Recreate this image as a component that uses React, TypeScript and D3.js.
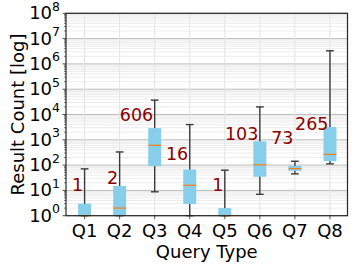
import { useEffect, useRef } from 'react'
import * as d3 from 'd3'

// 쿼리 유형별 결과 개수 분포 (log scale)
const categories = ['Q1', 'Q2', 'Q3', 'Q4', 'Q5', 'Q6', 'Q7', 'Q8']
const whiskerLow  = [1, 1, 8.8, 1, 1, 7, 45, 112]
const boxLow      = [1, 1, 91, 2.9, 1, 34.5, 59, 142]
const medians     = [1, 2, 606, 16, 1, 103, 73, 265]
const boxHigh     = [3, 15, 2900, 67, 2, 870, 93, 3200]
const whiskerHigh = [71, 331, 37000, 4000, 63, 20000, 142, 3.3e6]
const labelText   = ['1', '2', '606', '16', '1', '103', '73', '265']
const labelAt     = [9.4, 17.6, 5500, 155, 9.4, 1000, 710, 2500]
const yTicks      = [0, 1, 2, 3, 4, 5, 6, 7, 8]

const W = 357
const H = 268
const M = { top: 13.3, right: 9.5, bottom: 52.3, left: 66 }
const FONT = 'DejaVu Sans, sans-serif'

export default function App() {
  const svgRef = useRef<SVGSVGElement>(null)

  useEffect(() => {
    const svg = d3.select(svgRef.current)
    svg.selectAll('*').remove()

    const x = d3.scaleLinear().domain([0.47, 8.5]).range([M.left, W - M.right])
    const y = d3.scaleLog().domain([1, 1e8]).range([H - M.bottom, M.top])
    const step = x(2) - x(1)
    const boxW = step * 0.37
    const capW = step * 0.22

    // ── grid ──
    const minor: number[] = []
    for (let e = 0; e < 8; e++) for (let k = 2; k < 10; k++) minor.push(k * 10 ** e)
    svg.append('g').selectAll('line').data(minor).join('line')
      .attr('x1', M.left).attr('x2', W - M.right)
      .attr('y1', (d) => y(d)).attr('y2', (d) => y(d))
      .attr('stroke', '#ececec').attr('stroke-width', 1)
    svg.append('g').selectAll('line').data(yTicks).join('line')
      .attr('x1', M.left).attr('x2', W - M.right)
      .attr('y1', (d) => y(10 ** d)).attr('y2', (d) => y(10 ** d))
      .attr('stroke', '#bdbdbd').attr('stroke-width', 1)
    svg.append('g').selectAll('line').data(categories).join('line')
      .attr('x1', (_, i) => x(i + 1)).attr('x2', (_, i) => x(i + 1))
      .attr('y1', M.top).attr('y2', H - M.bottom)
      .attr('stroke', '#e3e3e3').attr('stroke-width', 1)

    // ── boxes ──
    const g = svg.append('g')
    categories.forEach((_, i) => {
      const cx = x(i + 1)
      g.append('line')
        .attr('x1', cx).attr('x2', cx)
        .attr('y1', y(whiskerHigh[i])).attr('y2', y(whiskerLow[i]))
        .attr('stroke', '#3a3a3a').attr('stroke-width', 1.4)
      ;[whiskerHigh[i], whiskerLow[i]].forEach((v) => {
        g.append('line')
          .attr('x1', cx - capW / 2).attr('x2', cx + capW / 2)
          .attr('y1', y(v)).attr('y2', y(v))
          .attr('stroke', '#3a3a3a').attr('stroke-width', 1.4)
      })
      g.append('rect')
        .attr('x', cx - boxW / 2).attr('width', boxW)
        .attr('y', y(boxHigh[i])).attr('height', y(boxLow[i]) - y(boxHigh[i]))
        .attr('fill', '#87ceeb')
      g.append('line')
        .attr('x1', cx - boxW / 2).attr('x2', cx + boxW / 2)
        .attr('y1', y(medians[i])).attr('y2', y(medians[i]))
        .attr('stroke', '#ff7f0e').attr('stroke-width', 1.2)
      g.append('text')
        .attr('x', cx - 1.5).attr('y', y(labelAt[i]))
        .attr('text-anchor', 'end').attr('font-family', FONT)
        .attr('font-size', 17.5).attr('fill', '#8b0000')
        .text(labelText[i])
    })

    // ── frame ──
    svg.append('rect')
      .attr('x', M.left).attr('y', M.top)
      .attr('width', W - M.right - M.left).attr('height', H - M.bottom - M.top)
      .attr('fill', 'none').attr('stroke', '#262626').attr('stroke-width', 1.2)

    // ── y axis ──
    svg.append('g').selectAll('line').data(minor).join('line')
      .attr('x1', M.left - 2).attr('x2', M.left)
      .attr('y1', (d) => y(d)).attr('y2', (d) => y(d))
      .attr('stroke', '#262626').attr('stroke-width', 0.6)
    const yt = svg.append('g').selectAll('g').data(yTicks).join('g')
    yt.append('line')
      .attr('x1', M.left - 3.5).attr('x2', M.left)
      .attr('y1', (d) => y(10 ** d)).attr('y2', (d) => y(10 ** d))
      .attr('stroke', '#262626').attr('stroke-width', 0.8)
    const ytxt = yt.append('text')
      .attr('x', M.left - 6).attr('y', (d) => y(10 ** d) + 6)
      .attr('text-anchor', 'end').attr('font-family', FONT).attr('font-size', 18)
      .attr('fill', '#000')
    ytxt.append('tspan').text('10')
    ytxt.append('tspan').attr('dy', -8.5).attr('font-size', 12.5).text((d) => String(d))

    // ── x axis ──
    svg.append('g').selectAll('line').data(categories).join('line')
      .attr('x1', (_, i) => x(i + 1)).attr('x2', (_, i) => x(i + 1))
      .attr('y1', H - M.bottom).attr('y2', H - M.bottom + 3.5)
      .attr('stroke', '#262626').attr('stroke-width', 0.8)
    svg.append('g').selectAll('text').data(categories).join('text')
      .attr('x', (_, i) => x(i + 1)).attr('y', H - M.bottom + 21)
      .attr('text-anchor', 'middle').attr('font-family', FONT).attr('font-size', 18)
      .text((d) => d)

    svg.append('text')
      .attr('x', (M.left + W - M.right) / 2).attr('y', H - 10)
      .attr('text-anchor', 'middle').attr('font-family', FONT).attr('font-size', 18)
      .text('Query Type')
    svg.append('text')
      .attr('transform', `translate(24,${(M.top + H - M.bottom) / 2}) rotate(-90)`)
      .attr('text-anchor', 'middle').attr('font-family', FONT).attr('font-size', 18)
      .text('Result Count [log]')
  }, [])

  return (
    <svg ref={svgRef} width={W} height={H}
      style={{ position: 'absolute', left: 0, top: 0, background: '#fff' }} />
  )
}
